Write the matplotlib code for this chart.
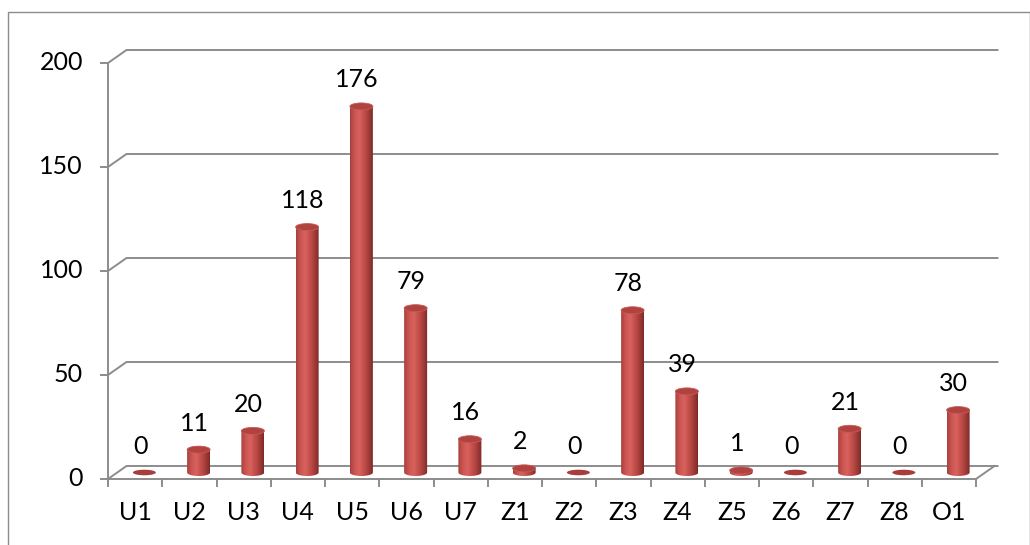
import numpy as np
import matplotlib
matplotlib.use('Agg')
import matplotlib.pyplot as plt
from matplotlib.patches import Polygon, Ellipse, Rectangle
from matplotlib.colors import LinearSegmentedColormap

# data
categories = ['U1', 'U2', 'U3', 'U4', 'U5', 'U6', 'U7', 'Z1', 'Z2', 'Z3', 'Z4', 'Z5', 'Z6', 'Z7', 'Z8', 'O1']
values = [0, 11, 20, 118, 176, 79, 16, 2, 0, 78, 39, 1, 0, 21, 0, 30]
yticks = [0, 50, 100, 150, 200]

plt.rcParams['font.family'] = ['Lato', 'DejaVu Sans']

W, H = 1030, 545
fig = plt.figure(figsize=(W / 100, H / 100), dpi=100)

# outer chart border
fig.patches.append(Rectangle((8 / W, -0.05), (W - 8.5) / W, 1.05 - 12 / H, transform=fig.transFigure,
                             fill=False, edgecolor='#8c8c8c', linewidth=1.0))

# front plot area in pixels: x 108..976, y 63 (200) .. 479 (0)
ax = fig.add_axes([108 / W, (H - 479) / H, 868 / W, 416 / H])
n = len(categories)
ax.set_xlim(0, n)
ax.set_ylim(0, 200)
ax.axis('off')

px_x = 868 / n      # pixels per category
px_y = 416 / 200    # pixels per unit
dx = 18.5 / px_x    # depth offset in data units
dy = 13 / px_y

fs = 18
grid_c = '#8c8c8c'
lw = 1.4
# back wall gridlines and left side diagonals
for v in yticks:
    ax.plot([0, dx, n + dx + 3 / px_x], [v, v + dy, v + dy], color=grid_c, lw=lw, clip_on=False,
            solid_joinstyle='miter')
    ax.plot([-7 / px_x, 0], [v, v], color=grid_c, lw=lw, clip_on=False)
    ax.text(-25 / px_x, v, str(v), ha='right', va='center', fontsize=fs, clip_on=False)
# floor
ax.plot([0, n, n + dx], [0, 0, dy], color=grid_c, lw=lw, clip_on=False)
ax.plot([0, 0], [0, 200], color=grid_c, lw=lw, clip_on=False)
for i in range(n + 1):
    ax.plot([i, i], [0, -7 / px_y], color=grid_c, lw=lw, clip_on=False)
for i, c in enumerate(categories):
    ax.text(i + 0.5, -33 / px_y, c, ha='center', va='center', fontsize=fs, clip_on=False)

# cylinders
cmap = LinearSegmentedColormap.from_list('cyl', ['#a6403d', '#cc5552', '#d8625e', '#c4504c', '#a63e3b', '#7e2a28'])
grad = np.linspace(0, 1, 64).reshape(1, -1)
bw = 23 / px_x
eh = 7 / px_y
base = dy / 2
for i, v in enumerate(values):
    cx = i + 0.5 + dx / 2
    x0, x1 = cx - bw / 2, cx + bw / 2
    top = base + v
    if v > 0:
        t = np.linspace(np.pi, 2 * np.pi, 40)
        arc = np.column_stack([cx + bw / 2 * np.cos(t), base + eh / 2 * np.sin(t)])
        pts = np.vstack([[x0, top], arc, [x1, top]])
        poly = Polygon(pts, closed=True, facecolor='none', edgecolor='none')
        ax.add_patch(poly)
        im = ax.imshow(grad, cmap=cmap, extent=[x0, x1, base - eh, top], aspect='auto',
                       interpolation='bilinear', zorder=3)
        im.set_clip_path(poly)
        ax.add_patch(Ellipse((cx, top), bw, eh, facecolor='#b0433f', edgecolor='#c75a56',
                             lw=0.6, zorder=4))
    else:
        ax.add_patch(Ellipse((cx, top), bw, eh * 0.8, facecolor='#a83e3b', edgecolor='none', zorder=4))
    ax.text(i + 0.5 + 5 / px_x, top + 15 / px_y, str(v), ha='center', va='bottom', fontsize=fs,
            clip_on=False)

ax.set_xlim(0, n)
ax.set_ylim(0, 200)
fig.savefig('out.png', dpi=100)
